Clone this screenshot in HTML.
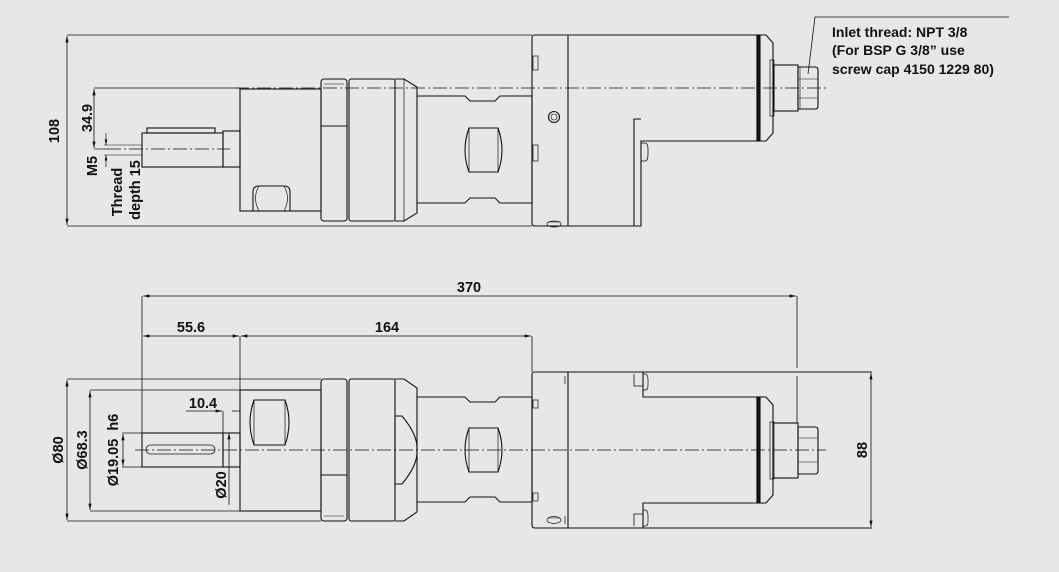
<!DOCTYPE html>
<html><head><meta charset="utf-8"><style>
html,body{margin:0;padding:0;background:#e6e7e8;}
svg{display:block;}
text{font-family:"Liberation Sans",sans-serif;font-weight:bold;fill:#111;font-size:14.5px;}
</style></head><body>
<svg width="1059" height="572" viewBox="0 0 1059 572" xmlns="http://www.w3.org/2000/svg">
<rect width="1059" height="572" fill="#e6e7e8"/>
<defs>
<marker id="a" viewBox="0 0 8 4" refX="8" refY="2" markerWidth="8" markerHeight="4" orient="auto-start-reverse"><path d="M0,0L8,2L0,4z" fill="#111"/></marker>
</defs>
<g fill="none" stroke="#111" stroke-width="1.1">
<line x1="67" y1="35" x2="532" y2="35" stroke-width="0.8"/>
<line x1="67" y1="226" x2="532" y2="226" stroke-width="0.8"/>
<line x1="67" y1="36" x2="67" y2="225" marker-start="url(#a)" marker-end="url(#a)" stroke-width="0.8"/>
<line x1="94" y1="88" x2="240" y2="88" stroke-width="0.7"/>
<line x1="94" y1="149" x2="108" y2="149" stroke-width="0.7"/>
<line x1="94" y1="89" x2="94" y2="148" marker-start="url(#a)" marker-end="url(#a)" stroke-width="0.8"/>
<line x1="106" y1="133" x2="106" y2="145" marker-end="url(#a)" stroke-width="0.7"/>
<line x1="106" y1="167" x2="106" y2="155" marker-end="url(#a)" stroke-width="0.7"/>
<line x1="104" y1="145" x2="142" y2="145" stroke-width="0.6"/>
<line x1="104" y1="155" x2="142" y2="155" stroke-width="0.6"/>
<line x1="107" y1="149" x2="230" y2="149" stroke-dasharray="14,3,2,3" stroke-width="0.7"/>
<line x1="235" y1="88" x2="826" y2="88" stroke-dasharray="14,3,2,3" stroke-width="0.8"/>
<rect x="142" y="133" width="81" height="34"/>
<rect x="147" y="128" width="68" height="5"/>
<rect x="223" y="131" width="17" height="36"/>
<rect x="240" y="89" width="81" height="122"/>
<path d="M253,211V192Q253,186 259,186H284Q290,186 290,192V211"/>
<path d="M259,186Q252,198 259,211M284,186Q291,198 284,211" stroke-width="0.7"/>
<rect x="321" y="79" width="26" height="142" rx="3"/>
<line x1="321" y1="126" x2="347" y2="126"/>
<line x1="324" y1="84" x2="344" y2="84" stroke-width="0.6"/>
<rect x="349" y="79" width="46" height="142" rx="2"/>
<path d="M395,79H404L417,87V213L404,221H395"/>
<line x1="404" y1="79" x2="404" y2="221" stroke-width="0.7"/>
<path d="M417,96H465L470,101H495L500,96H532V203H500L495,198H470L465,203H417"/>
<path d="M469,128H498Q506,150 498,172H469Q461,150 469,128Z"/>
<line x1="469" y1="128" x2="469" y2="172" stroke-width="0.7"/>
<line x1="498" y1="128" x2="498" y2="172" stroke-width="0.7"/>
<path d="M535,35H568V226H535Q532,226 532,223V38Q532,35 535,35Z"/>
<rect x="533" y="56" width="5" height="14" stroke-width="0.7"/>
<rect x="533" y="145" width="5" height="16" stroke-width="0.7"/>
<circle cx="554" cy="117" r="5.5"/><circle cx="554" cy="117" r="3" stroke-width="0.6"/>
<ellipse cx="554" cy="224" rx="7" ry="3" stroke-width="0.7"/><line x1="548" y1="222" x2="560" y2="222" stroke-width="0.5"/>
<path d="M568,35H757V141H641V226H568"/>
<path d="M634,226V119H641"/>
<path d="M641,143H645Q648,143 648,150V154Q648,161 645,161H641" stroke-width="0.8"/>
<rect x="757" y="35" width="3" height="106" fill="#111"/>
<path d="M760,35H766L773,43V133L766,141H760"/>
<rect x="770" y="60" width="4" height="56" stroke-width="0.7"/>
<rect x="774" y="65" width="24" height="46"/>
<path d="M798,67H815Q818,67 818,70V106Q818,109 815,109H798Z"/>
<line x1="800" y1="67" x2="800" y2="109" stroke-width="0.6"/>
<line x1="798" y1="79" x2="818" y2="79" stroke-width="0.6"/>
<line x1="798" y1="98" x2="818" y2="98" stroke-width="0.6"/>
<polyline points="808,74 815,17 1009,17" stroke-width="0.8"/>

<line x1="142" y1="296" x2="142" y2="450" stroke-width="0.8"/>
<line x1="797" y1="296" x2="797" y2="368" stroke-width="0.8"/>
<line x1="797" y1="376" x2="797" y2="423" stroke-width="0.8"/>
<line x1="143" y1="296" x2="796" y2="296" marker-start="url(#a)" marker-end="url(#a)" stroke-width="0.8"/>
<line x1="240" y1="336" x2="240" y2="390" stroke-width="0.8"/>
<line x1="532" y1="336" x2="532" y2="372" stroke-width="0.8"/>
<line x1="143" y1="336" x2="239" y2="336" marker-start="url(#a)" marker-end="url(#a)" stroke-width="0.8"/>
<line x1="241" y1="336" x2="531" y2="336" marker-start="url(#a)" marker-end="url(#a)" stroke-width="0.8"/>
<line x1="67" y1="379" x2="321" y2="379" stroke-width="0.8"/>
<line x1="67" y1="521" x2="321" y2="521" stroke-width="0.8"/>
<line x1="67" y1="380" x2="67" y2="520" marker-start="url(#a)" marker-end="url(#a)" stroke-width="0.8"/>
<line x1="90" y1="390" x2="240" y2="390" stroke-width="0.8"/>
<line x1="90" y1="511" x2="240" y2="511" stroke-width="0.8"/>
<line x1="90" y1="391" x2="90" y2="510" marker-start="url(#a)" marker-end="url(#a)" stroke-width="0.8"/>
<line x1="122" y1="433" x2="142" y2="433" stroke-width="0.8"/>
<line x1="122" y1="467" x2="142" y2="467" stroke-width="0.8"/>
<line x1="123" y1="434" x2="123" y2="466" marker-start="url(#a)" marker-end="url(#a)" stroke-width="0.8"/>
<line x1="229" y1="433" x2="229" y2="505" marker-start="url(#a)" stroke-width="0.8"/>
<line x1="223" y1="411" x2="223" y2="433" stroke-width="0.8"/>
<line x1="186" y1="411" x2="222" y2="411" marker-end="url(#a)" stroke-width="0.8"/>
<line x1="232" y1="411" x2="240" y2="411" stroke-width="0.8"/>
<line x1="135" y1="450" x2="826" y2="450" stroke-dasharray="14,3,2,3" stroke-width="0.8"/>
<rect x="142" y="433" width="81" height="34"/>
<rect x="146" y="445" width="69" height="9" rx="4.5" stroke-width="0.8"/>
<rect x="223" y="433" width="17" height="34"/>
<rect x="240" y="390" width="81" height="121"/>
<path d="M254,400H285Q293,422 285,445H254Q246,422 254,400Z"/>
<line x1="254" y1="400" x2="254" y2="445" stroke-width="0.7"/>
<line x1="285" y1="400" x2="285" y2="445" stroke-width="0.7"/>
<rect x="321" y="379" width="26" height="142" rx="3"/>
<line x1="321" y1="475" x2="347" y2="475"/>
<line x1="324" y1="516" x2="344" y2="516" stroke-width="0.6"/>
<rect x="349" y="379" width="46" height="142" rx="2"/>
<path d="M395,379H404L417,388V512L404,521H395"/>
<path d="M395,416H402Q418,435 417,450Q418,465 402,484H395Z"/>
<path d="M417,397H465L470,402H495L500,397H532V502H500L495,497H470L465,502H417"/>
<path d="M469,428H498Q506,450 498,472H469Q461,450 469,428Z"/>
<line x1="469" y1="428" x2="469" y2="472" stroke-width="0.7"/>
<line x1="498" y1="428" x2="498" y2="472" stroke-width="0.7"/>
<path d="M535,372H568V528H535Q532,528 532,525V375Q532,372 535,372Z"/>
<rect x="533" y="400" width="5" height="8" stroke-width="0.7"/>
<rect x="533" y="493" width="5" height="8" stroke-width="0.7"/>
<ellipse cx="554" cy="520" rx="7" ry="3.5" stroke-width="0.7"/><line x1="548" y1="518" x2="560" y2="518" stroke-width="0.5"/>
<line x1="565" y1="376" x2="565" y2="384" stroke-width="0.7"/>
<line x1="565" y1="516" x2="565" y2="524" stroke-width="0.7"/>
<path d="M568,372H872M568,528H872"/>
<path d="M643,372V397H757V503H643V528"/>
<path d="M634,374V386H643M634,526V514H643" stroke-width="0.8"/>
<path d="M643,374H645Q648,374 648,380V386Q648,390 645,390H643M643,510H645Q648,510 648,516V522Q648,526 645,526H643" stroke-width="0.7"/>
<rect x="757" y="397" width="3" height="106" fill="#111"/>
<path d="M760,397H766L773,405V495L766,503H760"/>
<rect x="773" y="423" width="25" height="55"/>
<rect x="770" y="422" width="4" height="57" stroke-width="0.7"/>
<path d="M798,427H815Q818,427 818,430V471Q818,474 815,474H798Z"/>
<line x1="798" y1="438" x2="818" y2="438" stroke-width="0.6"/>
<line x1="798" y1="462" x2="818" y2="462" stroke-width="0.6"/>
<line x1="871" y1="373" x2="871" y2="527" marker-start="url(#a)" marker-end="url(#a)" stroke-width="0.8"/>
</g>
<text transform="translate(59,131) rotate(-90)" text-anchor="middle">108</text>
<text transform="translate(92,118) rotate(-90)" text-anchor="middle">34.9</text>
<text transform="translate(97,166) rotate(-90)" text-anchor="middle">M5</text>
<text transform="translate(122,192) rotate(-90)" text-anchor="middle">Thread</text>
<text transform="translate(140,190) rotate(-90)" text-anchor="middle">depth 15</text>
<text x="832" y="37" style="font-size:14px">Inlet thread: NPT 3/8</text>
<text x="832" y="55" style="font-size:14px">(For BSP G 3/8” use</text>
<text x="832" y="74" style="font-size:14px">screw cap 4150 1229 80)</text>
<text x="469" y="292" text-anchor="middle">370</text>
<text x="191" y="332" text-anchor="middle">55.6</text>
<text x="387" y="332" text-anchor="middle">164</text>
<text x="203" y="408" text-anchor="middle">10.4</text>
<text transform="translate(63,450) rotate(-90)" text-anchor="middle">Ø80</text>
<text transform="translate(87,450) rotate(-90)" text-anchor="middle">Ø68.3</text>
<text transform="translate(118,450) rotate(-90)" text-anchor="middle" xml:space="preserve">Ø19.05  h6</text>
<text transform="translate(226,485) rotate(-90)" text-anchor="middle">Ø20</text>
<text transform="translate(867,450) rotate(-90)" text-anchor="middle">88</text>
</svg>
</body></html>
